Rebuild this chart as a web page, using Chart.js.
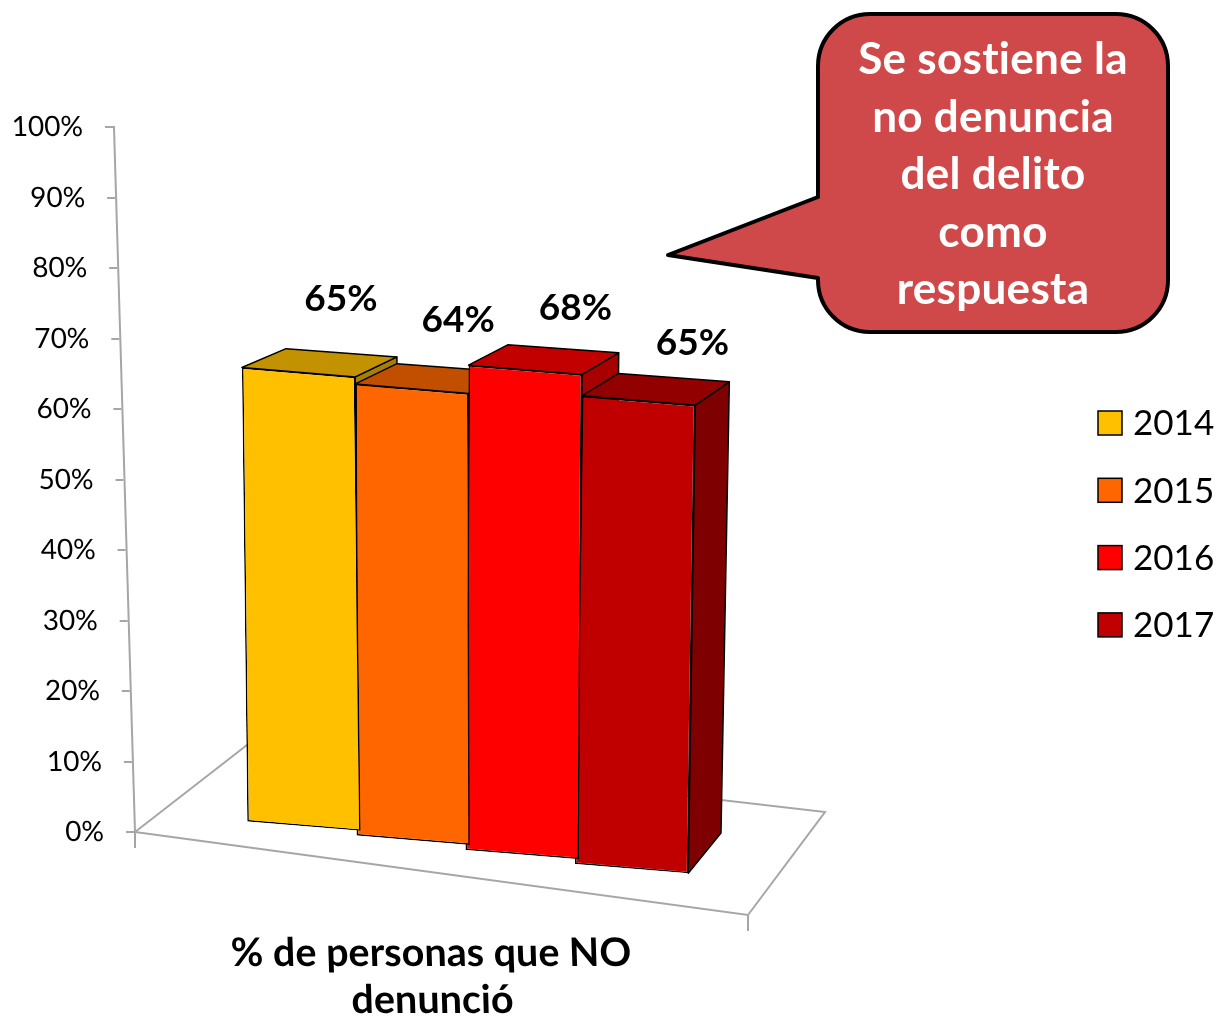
<!DOCTYPE html>
<html>
<head>
<meta charset="utf-8">
<script src="https://cdn.jsdelivr.net/npm/chart.js@4.4.0/dist/chart.umd.min.js"></script>
<style>
  html, body { margin: 0; padding: 0; background: #fff; }
  #chart { display: block; }
</style>
</head>
<body>
<canvas id="chart" width="1223" height="1022"></canvas>
<script>
// data
const categories = [['% de personas que NO', 'denunció']];
const years = ['2014', '2015', '2016', '2017'];
const noReport = [65, 64, 68, 65];
const barColors = ['#FFC000', '#FF6600', '#FF0000', '#C00000'];
const calloutLines = ['Se sostiene la', 'no denuncia', 'del delito', 'como', 'respuesta'];

Chart.defaults.font.family = 'Lato';

// depth of the bars on the 3d floor (0 = front edge of floor, 1 = back edge)
const FRONT_Z = 0.3, BACK_Z = 0.7;

function shade(hex, f) {
  const n = parseInt(hex.slice(1), 16);
  const r = Math.round(((n >> 16) & 255) * f);
  const g = Math.round(((n >> 8) & 255) * f);
  const b = Math.round((n & 255) * f);
  return 'rgb(' + r + ',' + g + ',' + b + ')';
}

// maps (u across the plot, z depth, v height 0..1) to a point of the 3d-looking view
function project(area, u, z, v) {
  const L = area.left, B = area.bottom, h = B - area.top;
  const fl = [L, B], fr = [L + 613, B + 83], br = [L + 690, B - 20], bl = [L + 112, B - 87];
  const w1 = (1 - u) * (1 - z), w2 = u * (1 - z), w3 = u * z, w4 = (1 - u) * z;
  const x = w1 * fl[0] + w2 * fr[0] + w3 * br[0] + w4 * bl[0];
  const y = w1 * fl[1] + w2 * fr[1] + w3 * br[1] + w4 * bl[1];
  const height = h * (1 + 0.057 * u - 0.092 * z);
  const lean = h * (-0.0298 + 0.05 * u + 0.007 * z);
  return { x: x + lean * v, y: y - height * v };
}

function barBox(chart, i) {
  const a = chart.chartArea;
  const el = chart.getDatasetMeta(i).data[0];
  const w = a.right - a.left, h = a.bottom - a.top;
  return {
    el: el,
    u0: (el.x - el.width / 2 - a.left) / w,
    u1: (el.x + el.width / 2 - a.left) / w,
    v: (a.bottom - el.y) / h
  };
}

function poly(ctx, pts, fill) {
  ctx.beginPath();
  ctx.moveTo(pts[0].x, pts[0].y);
  for (let i = 1; i < pts.length; i++) ctx.lineTo(pts[i].x, pts[i].y);
  ctx.closePath();
  ctx.fillStyle = fill;
  ctx.fill();
  ctx.stroke();
}

const view3d = {
  id: 'view3d',
  beforeDraw(chart) {
    // lean the axes like the reference perspective
    const ctx = chart.ctx, a = chart.chartArea;
    const k = 0.0298;
    ctx.save();
    ctx.transform(1, 0, k, 1, -k * a.bottom, 0);
  },
  beforeDatasetsDraw(chart) {
    const ctx = chart.ctx, a = chart.chartArea;
    ctx.restore();

    // floor
    const c = [project(a, 0, 0, 0), project(a, 1, 0, 0), project(a, 1, 1, 0), project(a, 0, 1, 0)];
    ctx.save();
    ctx.strokeStyle = '#A6A6A6';
    ctx.lineWidth = 2;
    ctx.beginPath();
    ctx.moveTo(c[0].x, c[0].y);
    c.slice(1).forEach(p => ctx.lineTo(p.x, p.y));
    ctx.closePath();
    ctx.moveTo(c[0].x, c[0].y);
    ctx.lineTo(c[0].x, c[0].y + 16);
    ctx.moveTo(c[1].x, c[1].y);
    ctx.lineTo(c[1].x, c[1].y + 16);
    ctx.stroke();
    ctx.restore();

    // top and side faces, left to right
    ctx.save();
    ctx.strokeStyle = '#000';
    ctx.lineWidth = 1.5;
    ctx.lineJoin = 'round';
    chart.data.datasets.forEach((ds, i) => {
      const b = barBox(chart, i);
      const tl = project(a, b.u0, FRONT_Z, b.v), tr = project(a, b.u1, FRONT_Z, b.v);
      const brf = project(a, b.u1, FRONT_Z, 0);
      const tlb = project(a, b.u0, BACK_Z, b.v), trb = project(a, b.u1, BACK_Z, b.v);
      const brb = project(a, b.u1, BACK_Z, 0);
      poly(ctx, [tr, brf, brb, trb], shade(ds.backgroundColor, 0.66));
      poly(ctx, [tl, tr, trb, tlb], shade(ds.backgroundColor, 0.76));
    });
    ctx.restore();
  },
  beforeDatasetDraw(chart, args) {
    // front face: map the flat bar onto its place in the view
    const ctx = chart.ctx, a = chart.chartArea;
    const b = barBox(chart, args.index), el = b.el;
    const tl = project(a, b.u0, FRONT_Z, b.v);
    const tr = project(a, b.u1, FRONT_Z, b.v);
    const br = project(a, b.u1, FRONT_Z, 0);
    const x0 = el.x - el.width / 2, y0 = el.y, w = el.width, h = el.base - el.y;
    const m11 = (tr.x - tl.x) / w, m12 = (tr.y - tl.y) / w;
    const m21 = (br.x - tr.x) / h, m22 = (br.y - tr.y) / h;
    ctx.save();
    ctx.transform(m11, m12, m21, m22, tl.x - m11 * x0 - m21 * y0, tl.y - m12 * x0 - m22 * y0);
  },
  afterDatasetDraw(chart) {
    chart.ctx.restore();
  },
  afterDatasetsDraw(chart) {
    const ctx = chart.ctx, a = chart.chartArea;
    ctx.save();
    ctx.font = 'bold 37px Lato';
    ctx.fillStyle = '#000';
    ctx.textAlign = 'center';
    ctx.textBaseline = 'middle';
    chart.data.datasets.forEach((ds, i) => {
      const b = barBox(chart, i);
      const um = (b.u0 + b.u1) / 2;
      const p = project(a, um, BACK_Z, b.v);
      ctx.fillText(ds.data[0] + '%', p.x + 9 + 35 * (um - 0.5), p.y - 44 + 36 * (um - 0.5));
    });
    ctx.restore();
  },
  afterDraw(chart) {
    const ctx = chart.ctx;
    ctx.save();

    // legend
    ctx.font = '35px Lato';
    ctx.textBaseline = 'middle';
    ctx.textAlign = 'left';
    chart.data.datasets.forEach((ds, i) => {
      const y = 423 + i * 67.3;
      ctx.fillStyle = ds.backgroundColor;
      ctx.fillRect(1098, y - 12, 24, 24);
      ctx.strokeStyle = '#000';
      ctx.lineWidth = 1.5;
      ctx.strokeRect(1098, y - 12, 24, 24);
      ctx.fillStyle = '#000';
      ctx.fillText(ds.label, 1133, y + 1);
    });

    // callout
    const x0 = 818, y0 = 14, x1 = 1168, y1 = 332, r = 52;
    ctx.beginPath();
    ctx.moveTo(x0 + r, y0);
    ctx.arcTo(x1, y0, x1, y1, r);
    ctx.arcTo(x1, y1, x0, y1, r);
    ctx.arcTo(x0, y1, x0, y0, r);
    ctx.lineTo(x0, 278);
    ctx.lineTo(668, 255);
    ctx.lineTo(x0, 197);
    ctx.arcTo(x0, y0, x1, y0, r);
    ctx.closePath();
    ctx.fillStyle = '#D0494A';
    ctx.fill();
    ctx.strokeStyle = '#000';
    ctx.lineWidth = 4;
    ctx.lineJoin = 'round';
    ctx.stroke();

    ctx.fillStyle = '#fff';
    ctx.font = 'bold 44px Lato';
    ctx.letterSpacing = '0.3px';
    ctx.textAlign = 'center';
    calloutLines.forEach((t, i) => ctx.fillText(t, 993, 60 + i * 57.5));
    ctx.restore();
  }
};

new Chart(document.getElementById('chart'), {
  type: 'bar',
  data: {
    labels: categories,
    datasets: years.map((y, i) => ({
      label: y,
      data: [noReport[i]],
      backgroundColor: barColors[i],
      borderColor: '#000',
      borderWidth: 1.5,
      borderSkipped: false,
      categoryPercentage: 0.725,
      barPercentage: 1.0
    }))
  },
  options: {
    responsive: false,
    devicePixelRatio: 1,
    animation: false,
    layout: { padding: { left: 0, top: 127, right: 503, bottom: 0 } },
    plugins: {
      legend: { display: false },
      tooltip: { enabled: false }
    },
    scales: {
      x: {
        grid: { display: false, drawTicks: false },
        border: { display: false },
        ticks: {
          color: '#000',
          font: { size: 39.5, weight: 'bold', lineHeight: 1.19 },
          padding: 98,
          maxRotation: 0,
          autoSkip: false
        },
        afterFit: s => { s.height = 190; }
      },
      y: {
        min: 0,
        max: 100,
        ticks: {
          stepSize: 10,
          color: '#000',
          font: { size: 28 },
          padding: 22,
          callback: v => v + '%'
        },
        grid: { drawOnChartArea: false, drawTicks: true, tickLength: 9, color: '#A6A6A6', lineWidth: 2 },
        border: { color: '#A6A6A6', width: 2 },
        afterFit: s => { s.width = 135; }
      }
    }
  },
  plugins: [view3d]
});
</script>
</body>
</html>
